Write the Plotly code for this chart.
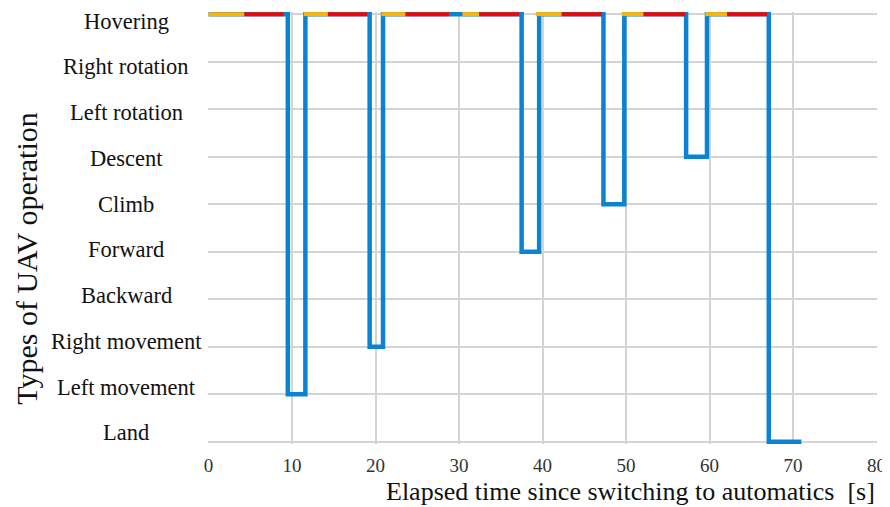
import plotly.graph_objects as go

# Categories (bottom -> top)
categories = ["Land", "Left movement", "Right movement", "Backward", "Forward",
              "Climb", "Descent", "Left rotation", "Right rotation", "Hovering"]

# Blue step series: operation state starting at each time
step_times = [0, 9.5, 11.6, 19.3, 20.9, 37.5, 39.6, 47.3, 49.8, 57.2, 59.7, 67.1, 71.0]
step_states = ["Hovering", "Left movement", "Hovering", "Right movement", "Hovering",
               "Forward", "Hovering", "Climb", "Hovering", "Descent", "Hovering",
               "Land", "Land"]

# Orange and red hovering sub-phases (start, end) in seconds
orange_start = [0, 11.4, 20.7, 30.4, 39.2, 49.5, 59.5]
orange_end = [4.3, 14.3, 23.6, 32.4, 42.3, 52.1, 62.1]
red_start = [4.3, 14.3, 23.6, 32.4, 42.3, 52.1, 62.1]
red_end = [9.0, 19.0, 28.8, 37.2, 47.1, 57.1, 66.9]

x_ticks = [0, 10, 20, 30, 40, 50, 60, 70, 80]

BLUE = "#0A84D2"
ORANGE = "#FFB400"
RED = "#FF0000"
GRID = "#D4D4D4"
SERIF = "Liberation Serif, Times New Roman, serif"

hover_level = categories.index("Hovering")
y_step = [categories.index(s) for s in step_states]


def segments(starts, ends, level):
    xs, ys = [], []
    for s, e in zip(starts, ends):
        xs += [s, e, None]
        ys += [level, level, None]
    return xs, ys


fig = go.Figure()
fig.add_trace(go.Scatter(x=step_times, y=y_step, mode="lines", line_shape="hv",
                         line=dict(color=BLUE, width=4.5), cliponaxis=False,
                         showlegend=False))
ox, oy = segments(orange_start, orange_end, hover_level)
fig.add_trace(go.Scatter(x=ox, y=oy, mode="lines", line=dict(color=ORANGE, width=4),
                         cliponaxis=False, showlegend=False))
rx, ry = segments(red_start, red_end, hover_level)
fig.add_trace(go.Scatter(x=rx, y=ry, mode="lines", line=dict(color=RED, width=4),
                         cliponaxis=False, showlegend=False))

n = len(categories)
annotations = []
for i, name in enumerate(categories):
    # labels are spread slightly tighter than the gridlines, as in the original
    annotations.append(dict(text=name, xref="paper", yref="y", x=-0.122, y=i,
                            xanchor="center", yanchor="middle", showarrow=False,
                            yshift=9 - 16 * i / (n - 1),
                            font=dict(family=SERIF, size=22.5, color="#111")))
annotations.append(dict(text="Elapsed time since switching to automatics  [s]",
                        xref="paper", yref="paper", x=1.0, y=0, xanchor="right",
                        yanchor="middle", yshift=-47, showarrow=False,
                        font=dict(family=SERIF, size=26, color="#111")))
annotations.append(dict(text="Types of UAV operation", xref="paper", yref="paper",
                        x=-0.2712, y=0.43, xanchor="center", yanchor="middle",
                        textangle=-90, showarrow=False,
                        font=dict(family=SERIF, size=30, color="#111")))

fig.update_layout(
    width=882, height=499,
    margin=dict(l=200, r=11, t=4, b=63),
    paper_bgcolor="white", plot_bgcolor="white",
    annotations=annotations,
    xaxis=dict(range=[-0.06, 80.06], tickvals=x_ticks, ticks="", showgrid=True,
               gridcolor=GRID, gridwidth=1.5, zeroline=False, showline=False,
               ticklabelstandoff=8,
               tickfont=dict(family=SERIF, size=19, color="#333"),
               fixedrange=True),
    yaxis=dict(range=[-0.045, 9.045], tickvals=list(range(n)),
               showticklabels=False, ticks="", showgrid=True,
               gridcolor=GRID, gridwidth=1.5, zeroline=False, showline=False,
               fixedrange=True),
)

fig.write_html("out.html")
